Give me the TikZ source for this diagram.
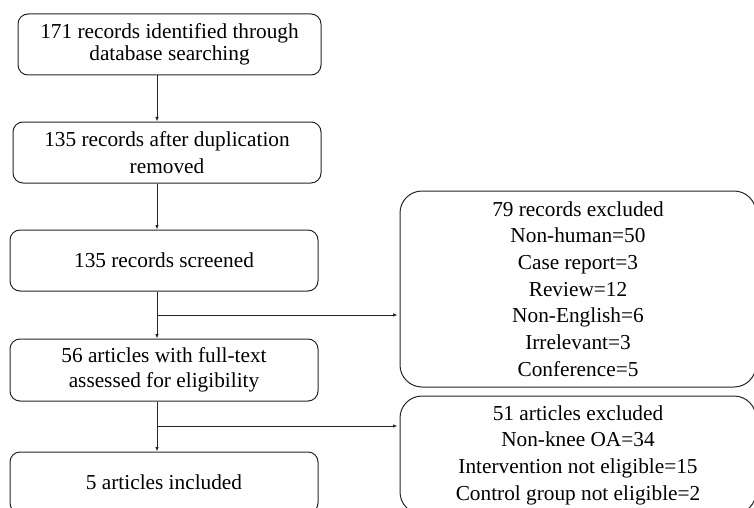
\documentclass[tikz,border=0pt]{standalone}
\usepackage{fontspec}
\setmainfont{Liberation Serif}
\usetikzlibrary{arrows.meta}
\tikzset{
  lbox/.style={draw=black!85, line width=1pt, rounded corners=10pt, minimum width=308pt, minimum height=61pt, align=center, inner sep=0pt, font=\fontsize{21.3}{25}\selectfont},
  rbox/.style={draw=black!85, line width=1pt, rounded corners=22pt, minimum width=356pt, align=center, inner sep=0pt, font=\fontsize{21.3}{26.7}\selectfont},
  arr/.style={draw=black!85, line width=1pt, -{Latex[length=4.5pt,width=3.6pt]}}
}
\begin{document}
\begin{tikzpicture}[x=1pt,y=-1pt]
\useasboundingbox (0,0) rectangle (754,508);
\node[lbox, minimum width=303pt, font=\fontsize{21.3}{21.7}\selectfont] (b1) at (169.5,44.5) {171 records identified through\\database searching};
\node[lbox, font=\fontsize{21.3}{26.7}\selectfont] (b2) at (167,152.5) {135 records after duplication\\removed};
\node[lbox] (b3) at (164,260.5) {135 records screened};
\node[lbox, minimum height=62pt] (b4) at (164,370) {56 articles with full-text\\assessed for eligibility};
\node[lbox] (b5) at (164,482.5) {5 articles included};
\node[rbox, minimum height=196pt] (r1) at (578,289) {79 records excluded\\Non-human=50\\Case report=3\\Review=12\\Non-English=6\\Irrelevant=3\\Conference=5};
\node[rbox, minimum height=118pt] (r2) at (578,455) {51 articles excluded\\Non-knee OA=34\\Intervention not eligible=15\\Control group not eligible=2};
\coordinate (ax) at (157,0);
\coordinate (j1) at (157,315);
\coordinate (j2) at (157,426);
\draw[arr] (b1.south -| ax) -- (b2.north -| ax);
\draw[arr] (b2.south -| ax) -- (b3.north -| ax);
\draw[arr] (b3.south -| ax) -- (b4.north -| ax);
\draw[arr] (b4.south -| ax) -- (b5.north -| ax);
\draw[arr] (j1) -- ([xshift=-2pt]j1 -| r1.west);
\draw[arr] (j2) -- ([xshift=-2pt]j2 -| r2.west);
\end{tikzpicture}
\end{document}
